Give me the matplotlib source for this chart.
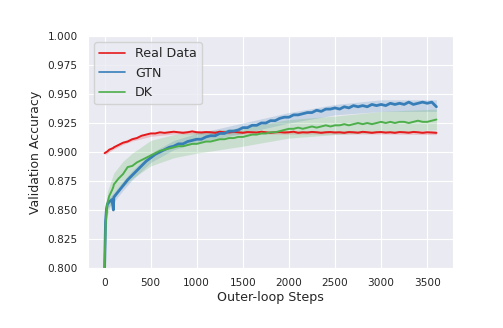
import matplotlib
matplotlib.use("Agg")
import matplotlib.pyplot as plt
import seaborn as sns

sns.set_style("darkgrid")
plt.rcParams['font.family'] = ['DejaVu Sans']

steps = [0, 10, 20, 30, 50, 80, 95, 100] + list(range(150, 3601, 50))

real_data = [0.899, 0.8995, 0.900, 0.9005, 0.902, 0.903, 0.9035, 0.904,
             0.906, 0.908, 0.909, 0.911, 0.912, 0.914, 0.915, 0.916, 0.916, 0.917,
             0.9165, 0.917, 0.9175, 0.917, 0.9165, 0.917, 0.9178, 0.917, 0.9168, 0.9172,
             0.917, 0.9165, 0.9175, 0.917, 0.9168, 0.9174, 0.917, 0.9165, 0.9172, 0.917,
             0.9168, 0.9175, 0.917, 0.9165, 0.917, 0.9172, 0.9168, 0.917, 0.9175, 0.9165,
             0.917, 0.9168, 0.9173, 0.917, 0.9165, 0.917, 0.9172, 0.9168, 0.917, 0.9165,
             0.9172, 0.917, 0.9166, 0.9174, 0.917, 0.9165, 0.917, 0.9172, 0.9167, 0.917,
             0.9165, 0.9172, 0.917, 0.9166, 0.9173, 0.917, 0.9165, 0.917, 0.9168, 0.9165]

gtn = [0.800, 0.840, 0.851, 0.855, 0.857, 0.859, 0.850, 0.861,
       0.866, 0.871, 0.876, 0.880, 0.884, 0.888, 0.892, 0.895, 0.898, 0.900,
       0.902, 0.904, 0.905, 0.907, 0.907, 0.909, 0.910, 0.911, 0.911, 0.913,
       0.914, 0.914, 0.916, 0.916, 0.918, 0.918, 0.919, 0.921, 0.921, 0.923,
       0.923, 0.925, 0.925, 0.927, 0.927, 0.929, 0.930, 0.930, 0.932, 0.932,
       0.933, 0.934, 0.934, 0.936, 0.935, 0.937, 0.937, 0.938, 0.937, 0.939,
       0.938, 0.940, 0.939, 0.940, 0.939, 0.941, 0.940, 0.941, 0.940, 0.942,
       0.941, 0.942, 0.941, 0.943, 0.941, 0.942, 0.943, 0.942, 0.943, 0.939]

dk = [0.800, 0.835, 0.850, 0.856, 0.862, 0.867, 0.870, 0.872,
      0.877, 0.881, 0.887, 0.888, 0.891, 0.893, 0.895, 0.897, 0.899, 0.901,
      0.902, 0.903, 0.904, 0.905, 0.905, 0.906, 0.907, 0.907, 0.908, 0.909,
      0.909, 0.910, 0.911, 0.911, 0.912, 0.912, 0.913, 0.913, 0.914, 0.915,
      0.915, 0.916, 0.916, 0.917, 0.917, 0.918, 0.919, 0.920, 0.920, 0.921,
      0.920, 0.921, 0.922, 0.921, 0.922, 0.923, 0.922, 0.923, 0.923, 0.924,
      0.923, 0.924, 0.925, 0.924, 0.925, 0.924, 0.925, 0.926, 0.925, 0.926,
      0.925, 0.926, 0.926, 0.925, 0.926, 0.927, 0.926, 0.926, 0.927, 0.928]

band_steps = [0, 10, 30, 100, 200, 300, 500, 750, 1000, 1500, 2000, 2500, 3000, 3600]
real_lo = [0.8975, 0.898, 0.899, 0.9025, 0.9065, 0.9095, 0.9135, 0.9155, 0.9155, 0.9155, 0.9155, 0.9155, 0.9155, 0.915]
real_hi = [0.9005, 0.901, 0.902, 0.9055, 0.9095, 0.9125, 0.9165, 0.9185, 0.9185, 0.9185, 0.9185, 0.9185, 0.9185, 0.9185]
gtn_lo = [0.800, 0.836, 0.851, 0.857, 0.867, 0.876, 0.891, 0.902, 0.908, 0.916, 0.925, 0.932, 0.935, 0.935]
gtn_hi = [0.800, 0.844, 0.859, 0.865, 0.875, 0.884, 0.899, 0.910, 0.916, 0.925, 0.934, 0.941, 0.945, 0.945]
dk_lo = [0.800, 0.826, 0.846, 0.862, 0.870, 0.877, 0.888, 0.895, 0.899, 0.905, 0.912, 0.915, 0.917, 0.919]
dk_hi = [0.800, 0.844, 0.866, 0.882, 0.892, 0.899, 0.910, 0.915, 0.917, 0.921, 0.928, 0.931, 0.935, 0.937]

labels = ["Real Data", "GTN", "DK"]
colors = ["#e41a1c", "#377eb8", "#4daf4a"]

fig = plt.figure(figsize=(5.03, 3.28), dpi=100)
ax = fig.add_axes([0.175, 0.183, 0.7256, 0.7072])

ax.fill_between(band_steps, real_lo, real_hi, color=colors[0], alpha=0.2, lw=0)
ax.fill_between(band_steps, gtn_lo, gtn_hi, color=colors[1], alpha=0.2, lw=0)
ax.fill_between(band_steps, dk_lo, dk_hi, color=colors[2], alpha=0.2, lw=0)

ax.plot(steps, real_data, color=colors[0], lw=1.4, label=labels[0])
ax.plot(steps, gtn, color=colors[1], lw=2.0, label=labels[1])
ax.plot(steps, dk, color=colors[2], lw=1.4, label=labels[2])

ax.set_ylim(0.8, 1.0)
ax.set_xticks(range(0, 3501, 500))
ax.set_yticks([0.8 + 0.025 * i for i in range(9)])
ax.set_yticklabels([f"{0.8 + 0.025 * i:.3f}" for i in range(9)])
ax.tick_params(labelsize=7.6, pad=4)
ax.set_xlabel("Outer-loop Steps", fontsize=9.1, labelpad=2)
ax.set_ylabel("Validation Accuracy", fontsize=9.0)
leg = ax.legend(loc="upper left", fontsize=9.1)
for line in leg.get_lines():
    line.set_linewidth(1.2)

fig.savefig("out.png", dpi=100)
